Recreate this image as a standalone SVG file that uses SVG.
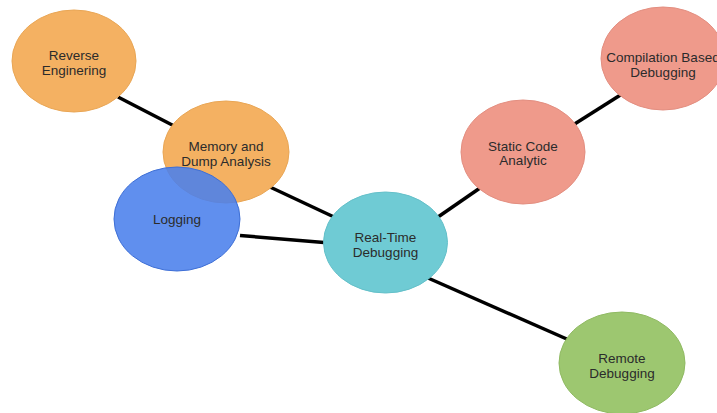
<svg xmlns="http://www.w3.org/2000/svg" width="717" height="413" viewBox="0 0 717 413">
<style>
.e{stroke-width:1}
.t{font-family:"Liberation Sans",Arial,sans-serif;font-size:13.5px;fill:#2b2b2b;text-anchor:middle}
.c line{stroke:#000;stroke-width:3.5}
.o{fill:#F4B162;stroke:#E9A655}
.r{fill:#EF9A8B;stroke:#E38E80}
</style>
<rect width="717" height="413" fill="#fff"/>
<g class="c" id="connectors">
<line x1="118" y1="97" x2="178" y2="128"/>
<line x1="270" y1="187" x2="334" y2="217"/>
<line x1="240" y1="235.5" x2="324" y2="242.5"/>
<line x1="438" y1="217" x2="480" y2="188"/>
<line x1="573" y1="125" x2="622" y2="94"/>
<line x1="428" y1="278" x2="569" y2="340"/>
</g>
<g id="reverse"><ellipse class="e o" cx="74" cy="61" rx="62" ry="51"/><text class="t" x="74" y="59.5">Reverse</text><text class="t" x="74" y="74.5">Enginering</text></g>
<g id="memory"><ellipse class="e o" cx="226" cy="152" rx="63" ry="51"/><text class="t" x="226" y="151">Memory and</text><text class="t" x="226" y="166">Dump Analysis</text></g>
<g id="logging"><ellipse cx="177" cy="219" rx="63" ry="52" fill="#4A7FEC" fill-opacity="0.88" stroke="#3E6FD6"/><text class="t" x="177" y="224">Logging</text></g>
<g id="realtime"><ellipse cx="385.5" cy="242.5" rx="62" ry="50.5" fill="#6FCBD4" stroke="#64C0C9"/><text class="t" x="385.5" y="241.5">Real-Time</text><text class="t" x="385.5" y="256.5">Debugging</text></g>
<g id="static"><ellipse class="e r" cx="523" cy="152" rx="62" ry="52"/><text class="t" x="523" y="150.5">Static Code</text><text class="t" x="523" y="165">Analytic</text></g>
<g id="compilation"><ellipse class="e r" cx="663" cy="58.5" rx="62" ry="51.5"/><text class="t" x="663" y="61.5">Compilation Based</text><text class="t" x="663" y="76.5">Debugging</text></g>
<g id="remote"><ellipse cx="622" cy="363" rx="63" ry="51" fill="#9DC770" stroke="#90BA63"/><text class="t" x="622" y="362.5">Remote</text><text class="t" x="622" y="377.5">Debugging</text></g>
</svg>
